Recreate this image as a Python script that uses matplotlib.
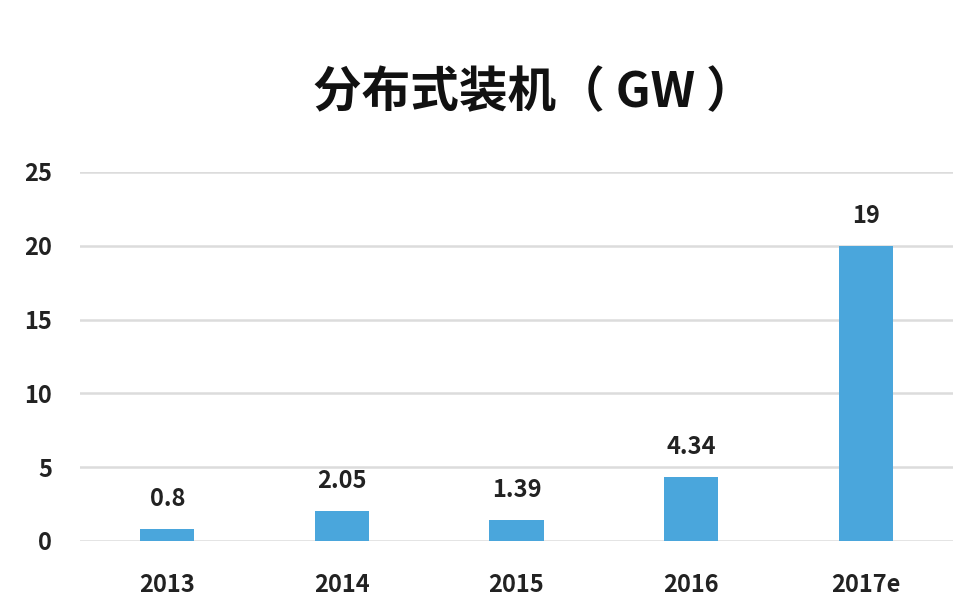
import matplotlib.pyplot as plt

years = ["2013", "2014", "2015", "2016", "2017e"]
heights = [0.8, 2.05, 1.39, 4.34, 20]
labels = ["0.8", "2.05", "1.39", "4.34", "19"]
yticks = [0, 5, 10, 15, 20, 25]

plt.rcParams['font.family'] = ['Noto Sans CJK SC', 'DejaVu Sans']

fig = plt.figure(figsize=(9.7, 6.16), dpi=100)
ax = fig.add_axes([0.0825, 0.1218, 0.9, 0.599])

x = range(len(years))
ax.bar(x, heights, width=0.31, color="#4aa6dc", zorder=3)
for xi, h, lab in zip(x, heights, labels):
    ax.annotate(lab, (xi, h), xytext=(0, 13), textcoords="offset points",
                ha="center", va="bottom", fontsize=17, fontweight="bold", color="#222222")

ax.set_xlim(-0.5, 4.5)
ax.set_ylim(0, 25)
ax.set_yticks(yticks)
ax.set_xticks(list(x))
ax.set_xticklabels(years)
ax.grid(axis="y", color="#dcdcdc", linewidth=1.8, zorder=0)
for s in ax.spines.values():
    s.set_visible(False)
ax.tick_params(length=0, labelsize=17, colors="#222222")
ax.tick_params(axis="y", pad=20)
ax.tick_params(axis="x", pad=23)
for t in ax.get_xticklabels() + ax.get_yticklabels():
    t.set_fontweight("bold")

fig.text(0.55, 0.85, "分布式装机（ GW ）", ha="center", va="center", fontsize=35,
         fontweight="bold", color="#111111")

fig.savefig("out.png", dpi=100)
